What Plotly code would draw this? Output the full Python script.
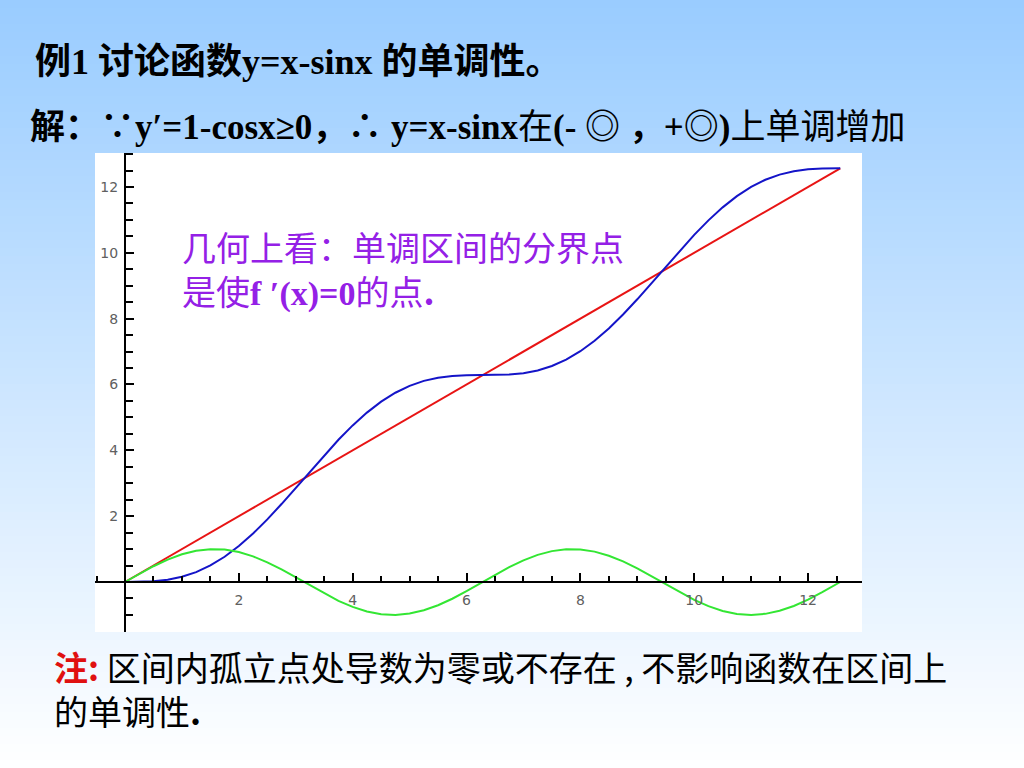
import plotly.graph_objects as go

# ---- data ----
x_vals = [0, 0.25, 0.5, 0.75, 1.0, 1.25, 1.5, 1.75, 2.0, 2.25, 2.5, 2.75, 3.0, 3.25, 3.5, 3.75,
          4.0, 4.25, 4.5, 4.75, 5.0, 5.25, 5.5, 5.75, 6.0, 6.25, 6.5, 6.75, 7.0, 7.25, 7.5, 7.75,
          8.0, 8.25, 8.5, 8.75, 9.0, 9.25, 9.5, 9.75, 10.0, 10.25, 10.5, 10.75, 11.0, 11.25, 11.5,
          11.75, 12.0, 12.25, 12.5, 12.566]
blue_y = [0, 0.0026, 0.0206, 0.0684, 0.1585, 0.3010, 0.5025, 0.7660, 1.0907, 1.4719, 1.9015,
          2.3683, 2.8589, 3.3582, 3.8508, 4.3216, 4.7568, 5.1450, 5.4775, 5.7493, 5.9589, 6.1090,
          6.2055, 6.2583, 6.2794, 6.2832, 6.2849, 6.3000, 6.3430, 6.4269, 6.5620, 6.7554, 7.0106,
          7.3274, 7.7015, 8.1253, 8.5879, 9.0762, 9.5751, 10.0695, 10.5440, 10.9847, 11.3797,
          11.7200, 12.0000, 12.2178, 12.3755, 12.4787, 12.5366, 12.5611, 12.5663, 12.566]
green_y = [0, 0.2474, 0.4794, 0.6816, 0.8415, 0.9490, 0.9975, 0.9840, 0.9093, 0.7781, 0.5985,
           0.3817, 0.1411, -0.1082, -0.3508, -0.5716, -0.7568, -0.8950, -0.9775, -0.9993, -0.9589,
           -0.8590, -0.7055, -0.5083, -0.2794, -0.0332, 0.2151, 0.4500, 0.6570, 0.8231, 0.9380,
           0.9946, 0.9894, 0.9226, 0.7985, 0.6248, 0.4121, 0.1739, -0.0751, -0.3195, -0.5440,
           -0.7347, -0.8797, -0.9700, -1.0000, -0.9678, -0.8755, -0.7287, -0.5366, -0.3111,
           -0.0663, 0]
red_x = [0, 12.566]
red_y = [0, 12.566]
tick_vals = [2, 4, 6, 8, 10, 12]
tick_text = ["2", "4", "6", "8", "10", "12"]

# ---- layout geometry (pixels) ----
FW, FH = 1024, 768
L, R, T, B = 95, 862, 153, 632
W, H = R - L, B - T


def px(x):
    return (x - L) / W


def py(y):
    return (B - y) / H


fig = go.Figure()
fig.add_trace(go.Scatter(x=red_x, y=red_y, mode="lines",
                         line=dict(color="#E81414", width=2), showlegend=False))
fig.add_trace(go.Scatter(x=x_vals, y=blue_y, mode="lines",
                         line=dict(color="#1414C8", width=2), showlegend=False))
fig.add_trace(go.Scatter(x=x_vals, y=green_y, mode="lines",
                         line=dict(color="#33E633", width=2), showlegend=False))

# background gradient bands
shapes = []
n = 96
top = (153, 204, 255)
bot = (255, 255, 255)
for i in range(n):
    y0 = i * FH / n
    y1 = (i + 1) * FH / n + 0.8
    t = (i + 0.5) / n
    c = tuple(round(top[k] + (bot[k] - top[k]) * t) for k in range(3))
    shapes.append(dict(type="rect", xref="paper", yref="paper", layer="below",
                       x0=px(0), x1=px(FW), y0=py(y1), y1=py(y0),
                       fillcolor="rgb(%d,%d,%d)" % c, line=dict(width=0)))
shapes.append(dict(type="rect", xref="paper", yref="paper", layer="below",
                   x0=0, x1=1, y0=0, y1=1, fillcolor="white", line=dict(width=0)))

SER = "Liberation Serif, Noto Sans CJK SC"
CJK = "Noto Sans CJK SC, Liberation Serif"


def ann(text, x, y, size, color="black", family=SER):
    return dict(text=text, xref="paper", yref="paper", x=px(x), y=py(y),
                xanchor="left", yanchor="middle", align="left", showarrow=False,
                font=dict(family=family, size=size, color=color))


annotations = [
    ann("<b>例1 讨论函数y=x-sinx 的单调性。</b>", 33, 62, 36),
    ann("<b>解：∵y′=1-cosx≥0，∴ y=x-sinx</b>在<b>(- ◎ ，+◎)</b>上单调增加", 28, 128, 35),
    ann("几何上看：单调区间的分界点<br>是使<b><span style='font-family:Liberation Serif'>f ′(x)=0</span></b>的点<b>.</b>",
        180, 268, 34, color="#9420E6", family=CJK),
    ann("<b><span style='color:#E01010'>注:</span></b> 区间内孤立点处导数为零或不存在 , 不影响函数在区间上"
        "<br>的单调性<b>.</b>",
        52, 688, 34, family=CJK),
]

x_per = 56.92
y_per = 32.92
xr = [(L - 125) / x_per, (R - 125) / x_per]
yr = [(582 - B) / y_per, (582 - T) / y_per]

fig.update_layout(
    width=FW, height=FH,
    margin=dict(l=L, r=FW - R, t=T, b=FH - B, pad=0),
    paper_bgcolor="white", plot_bgcolor="white",
    shapes=shapes, annotations=annotations,
    xaxis=dict(range=xr, anchor="free", position=(B - 582) / H, side="bottom",
               showline=True, linecolor="black", linewidth=2, zeroline=False, showgrid=False,
               tickmode="array", tickvals=tick_vals, ticktext=tick_text,
               ticks="inside", ticklen=8, tickwidth=2, tickcolor="black",
               ticklabelstandoff=5,
               tickfont=dict(family="DejaVu Sans", size=14, color="#606060"),
               minor=dict(dtick=0.5, tick0=0, ticks="inside", ticklen=5, tickwidth=2,
                          tickcolor="black", showgrid=False)),
    yaxis=dict(range=yr, anchor="free", position=(125 - L) / W, side="left",
               showline=True, linecolor="black", linewidth=2, zeroline=False, showgrid=False,
               tickmode="array", tickvals=tick_vals, ticktext=tick_text,
               ticks="inside", ticklen=8, tickwidth=2, tickcolor="black",
               ticklabelstandoff=3,
               tickfont=dict(family="DejaVu Sans", size=14, color="#606060"),
               minor=dict(dtick=0.5, tick0=0, ticks="inside", ticklen=7, tickwidth=2,
                          tickcolor="black", showgrid=False)),
)

fig.write_html("out.html", config={"displayModeBar": False},
               post_script="document.body.style.margin='0';")
